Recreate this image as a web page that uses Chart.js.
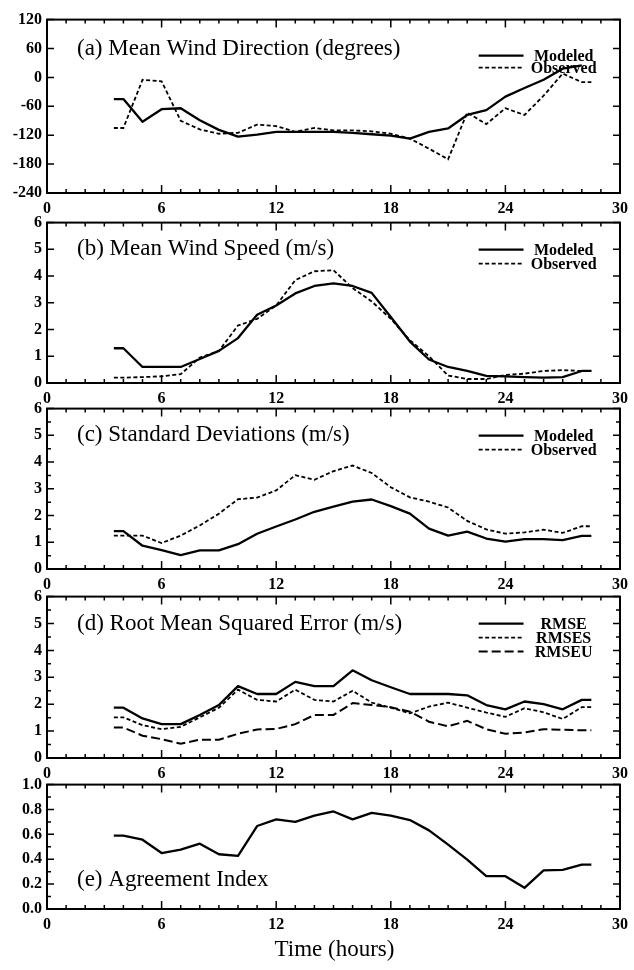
<!DOCTYPE html>
<html>
<head>
<meta charset="utf-8">
<script src="https://cdn.jsdelivr.net/npm/chart.js@4.4.1/dist/chart.umd.min.js"></script>
<style>
  body { margin: 0; background: #fff; }
  #page { position: relative; width: 634px; height: 970px; overflow: hidden; }
  canvas { position: absolute; left: 0; }
  #xtitle {
    position: absolute; left: 47px; width: 575px; top: 936px;
    line-height: 26px; text-align: center;
    font-family: "Liberation Serif", serif; font-size: 23px; color: #000;
  }
</style>
</head>
<body>
<div id="page">
  <canvas id="panelA"></canvas>
  <canvas id="panelB"></canvas>
  <canvas id="panelC"></canvas>
  <canvas id="panelD"></canvas>
  <canvas id="panelE"></canvas>
  <div id="xtitle">Time (hours)</div>
</div>
<script>
// hours of each sample
const hours = [3.5, 4, 5, 6, 7, 8, 9, 10, 11, 12, 13, 14, 15, 16, 17, 18, 19, 20, 21, 22, 23, 24, 25, 26, 27, 28, 28.5];

// (a) mean wind direction, degrees
const dirModeled  = [-45, -45, -92, -66, -64, -89, -109, -123, -119, -113, -113, -113, -113, -115, -118, -121, -127, -113, -106, -78, -68, -40, -22, -5, 18, 25, null];
const dirObserved = [-105, -105, -5, -8, -90, -108, -117, -115, -98, -101, -113, -105, -110, -110, -112, -117, -127, -148, -170, -73, -97, -64, -78, -38, 8, -10, -10];

// (b) mean wind speed, m/s
const speedModeled  = [1.3, 1.3, 0.6, 0.6, 0.6, 0.9, 1.2, 1.68, 2.55, 2.9, 3.35, 3.63, 3.73, 3.63, 3.37, 2.47, 1.55, 0.88, 0.6, 0.45, 0.27, 0.25, 0.22, 0.2, 0.22, 0.45, 0.45];
const speedObserved = [0.2, 0.2, 0.22, 0.25, 0.33, 0.95, 1.2, 2.15, 2.4, 2.9, 3.85, 4.18, 4.22, 3.55, 3.05, 2.4, 1.6, 1.0, 0.28, 0.15, 0.15, 0.3, 0.35, 0.45, 0.48, 0.45, 0.45];

// (c) standard deviations, m/s
const stdModeled  = [1.42, 1.42, 0.87, 0.71, 0.52, 0.7, 0.7, 0.93, 1.32, 1.59, 1.85, 2.14, 2.33, 2.52, 2.6, 2.35, 2.07, 1.51, 1.25, 1.4, 1.14, 1.02, 1.12, 1.12, 1.08, 1.24, 1.24];
const stdObserved = [1.25, 1.25, 1.25, 0.97, 1.25, 1.63, 2.07, 2.61, 2.67, 2.94, 3.51, 3.34, 3.66, 3.87, 3.59, 3.06, 2.68, 2.52, 2.3, 1.8, 1.48, 1.32, 1.37, 1.47, 1.35, 1.6, 1.6];

// (d) root mean squared error, m/s
const rmse  = [1.87, 1.87, 1.47, 1.26, 1.26, 1.6, 1.97, 2.67, 2.38, 2.38, 2.83, 2.67, 2.67, 3.26, 2.89, 2.63, 2.38, 2.38, 2.38, 2.33, 1.97, 1.81, 2.1, 2.0, 1.81, 2.16, 2.16];
const rmses = [1.51, 1.51, 1.22, 1.07, 1.16, 1.51, 1.87, 2.54, 2.16, 2.1, 2.54, 2.16, 2.1, 2.5, 2.06, 1.87, 1.66, 1.91, 2.06, 1.87, 1.69, 1.53, 1.85, 1.7, 1.45, 1.89, 1.89];
const rmseu = [1.13, 1.13, 0.83, 0.7, 0.53, 0.68, 0.68, 0.9, 1.06, 1.08, 1.26, 1.6, 1.6, 2.04, 1.97, 1.89, 1.72, 1.35, 1.18, 1.38, 1.07, 0.9, 0.95, 1.07, 1.05, 1.03, 1.03];

// (e) agreement index
const agreement = [0.59, 0.59, 0.557, 0.45, 0.477, 0.525, 0.44, 0.427, 0.667, 0.72, 0.7, 0.75, 0.784, 0.72, 0.773, 0.75, 0.715, 0.632, 0.517, 0.397, 0.264, 0.264, 0.17, 0.31, 0.315, 0.357, 0.357];

const SERIF = '"Liberation Serif", "Times New Roman", serif';

function pts(arr) {
  return hours.map((h, i) => ({ x: h, y: arr[i] }));
}

function solid(label, arr) {
  return { label, data: pts(arr), borderColor: '#000', borderWidth: 2.3, borderJoinStyle: 'round' };
}
function dashed(label, arr) {
  return { label, data: pts(arr), borderColor: '#000', borderWidth: 1.8, borderDash: [4, 2.5] };
}
function longDashed(label, arr) {
  return { label, data: pts(arr), borderColor: '#000', borderWidth: 2, borderDash: [9, 4] };
}

// frame with inward ticks, panel caption and legend
const panelDeco = {
  id: 'panelDeco',
  afterDatasetsDraw(chart, args, opts) {
    const { ctx, chartArea: a } = chart;
    const x = chart.scales.x, y = chart.scales.y;
    ctx.save();
    ctx.strokeStyle = '#000';
    ctx.fillStyle = '#000';

    ctx.beginPath();
    ctx.lineWidth = 1.5;
    for (let h = 0; h <= 30; h++) {
      const px = x.getPixelForValue(h);
      const len = h % 6 === 0 ? 8 : 4;
      ctx.moveTo(px, a.bottom); ctx.lineTo(px, a.bottom - len);
      ctx.moveTo(px, a.top); ctx.lineTo(px, a.top + len);
    }
    const n = Math.round((y.max - y.min) / opts.yMinor);
    for (let i = 0; i <= n; i++) {
      const v = y.min + i * opts.yMinor;
      const py = y.getPixelForValue(v);
      const r = v / opts.yMajor;
      const len = Math.abs(r - Math.round(r)) < 1e-6 ? 7 : 4;
      ctx.moveTo(a.left, py); ctx.lineTo(a.left + len, py);
      ctx.moveTo(a.right, py); ctx.lineTo(a.right - len, py);
    }
    ctx.stroke();

    ctx.lineWidth = 2;
    ctx.strokeRect(a.left, a.top, a.right - a.left, a.bottom - a.top);

    ctx.font = '23px ' + SERIF;
    ctx.textAlign = 'left';
    ctx.textBaseline = 'middle';
    ctx.fillText(opts.title, a.left + 30, y.getPixelForValue(opts.titleAt));

    if (opts.legend) {
      ctx.font = 'bold 16px ' + SERIF;
      ctx.textAlign = 'center';
      chart.data.datasets.forEach((ds, i) => {
        const py = a.top + opts.legendTop + i * opts.legendGap;
        ctx.beginPath();
        ctx.lineWidth = ds.borderWidth;
        ctx.setLineDash(ds.borderDash || []);
        ctx.moveTo(x.getPixelForValue(22.6), py);
        ctx.lineTo(x.getPixelForValue(24.95), py);
        ctx.stroke();
        ctx.setLineDash([]);
        ctx.fillText(ds.label, x.getPixelForValue(27.05), py + 1);
      });
    }
    ctx.restore();
  }
};

function makePanel(id, top, height, yMin, yMax, yStep, datasets, deco, fmt) {
  const padTop = 12, padBottom = 30;
  const canvas = document.getElementById(id);
  canvas.style.top = (top - padTop) + 'px';
  canvas.width = 634;
  canvas.height = height + padTop + padBottom;
  const tickFont = { family: SERIF, size: 16, weight: 'bold' };
  return new Chart(canvas, {
    type: 'line',
    data: { datasets },
    options: {
      responsive: false,
      animation: false,
      devicePixelRatio: 1,
      layout: { padding: { top: padTop, right: 12, left: 0, bottom: 0 } },
      elements: { point: { radius: 0 }, line: { tension: 0 } },
      plugins: { legend: { display: false }, tooltip: { enabled: false }, panelDeco: deco },
      scales: {
        x: {
          type: 'linear', min: 0, max: 30,
          afterFit: s => { s.height = padBottom; },
          grid: { display: false, drawTicks: false },
          border: { display: false },
          ticks: { stepSize: 6, padding: 6, color: '#000', font: tickFont, maxRotation: 0, autoSkip: false }
        },
        y: {
          min: yMin, max: yMax,
          afterFit: s => { s.width = 47; },
          grid: { display: false, drawTicks: false },
          border: { display: false },
          ticks: { stepSize: yStep, padding: 5, color: '#000', font: tickFont, callback: fmt }
        }
      }
    },
    plugins: [panelDeco]
  });
}

const intFmt = v => String(Math.round(v));

makePanel('panelA', 17, 176, -240, 120, 60,
  [solid('Modeled', dirModeled), dashed('Observed', dirObserved)],
  { title: '(a) Mean Wind Direction (degrees)', titleAt: 60, yMinor: 60, yMajor: 60, legend: true, legendTop: 36, legendGap: 12 },
  intFmt);

makePanel('panelB', 220, 163, 0, 6, 1,
  [solid('Modeled', speedModeled), dashed('Observed', speedObserved)],
  { title: '(b) Mean Wind Speed (m/s)', titleAt: 5, yMinor: 1, yMajor: 1, legend: true, legendTop: 27, legendGap: 14 },
  intFmt);

makePanel('panelC', 406, 163, 0, 6, 1,
  [solid('Modeled', stdModeled), dashed('Observed', stdObserved)],
  { title: '(c) Standard Deviations (m/s)', titleAt: 5, yMinor: 0.5, yMajor: 1, legend: true, legendTop: 27, legendGap: 14 },
  intFmt);

makePanel('panelD', 594, 164, 0, 6, 1,
  [solid('RMSE', rmse), dashed('RMSES', rmses), longDashed('RMSEU', rmseu)],
  { title: '(d) Root Mean Squared Error (m/s)', titleAt: 5, yMinor: 0.5, yMajor: 1, legend: true, legendTop: 27, legendGap: 14 },
  intFmt);

makePanel('panelE', 782, 127, 0, 1, 0.2,
  [solid('Agreement Index', agreement)],
  { title: '(e) Agreement Index', titleAt: 0.23, yMinor: 0.1, yMajor: 0.2, legend: false },
  v => v.toFixed(1));
</script>
</body>
</html>
